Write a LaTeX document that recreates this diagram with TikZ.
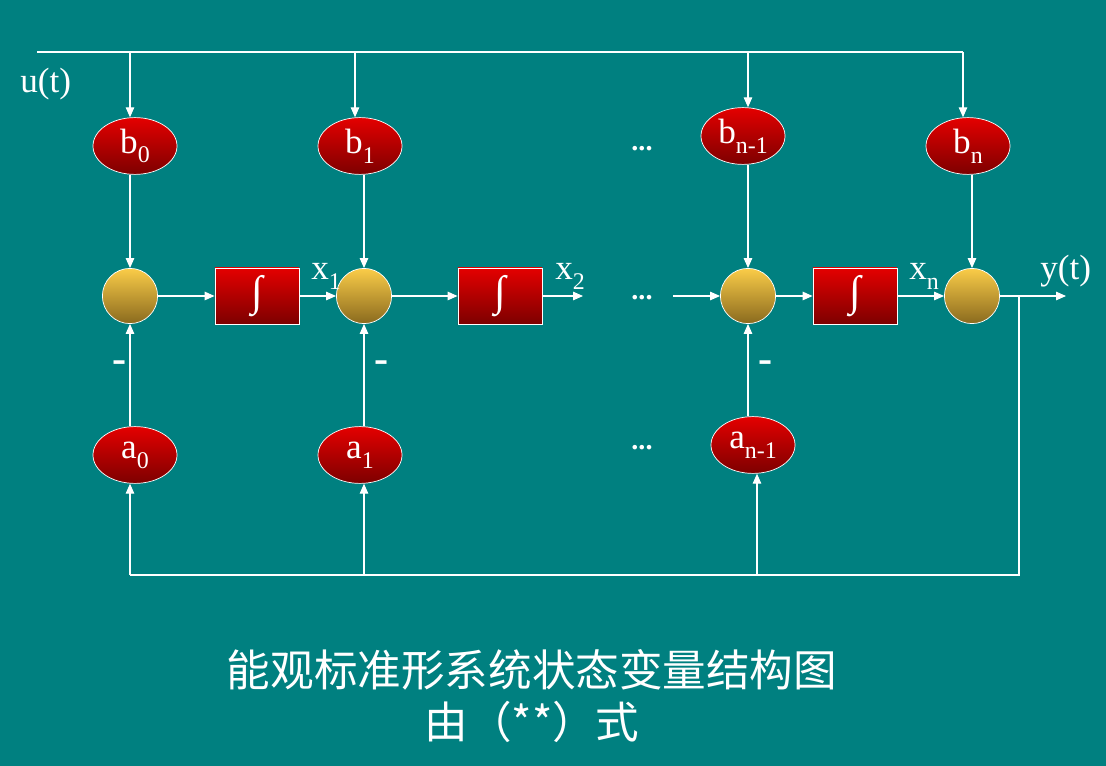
\documentclass[tikz,border=0pt]{standalone}
\usepackage{fontspec}
\setmainfont{Liberation Serif}
\newfontfamily\cjk{Noto Sans CJK SC}
\usetikzlibrary{arrows.meta,shapes.geometric}
\definecolor{bgteal}{RGB}{0,128,128}
\definecolor{gainhi}{RGB}{228,0,0}
\definecolor{gainlo}{RGB}{125,0,0}
\definecolor{sumhi}{RGB}{250,204,72}
\definecolor{sumlo}{RGB}{138,106,30}
\newcommand{\idx}[1]{\raisebox{-0.28em}{\fontsize{17}{17}\selectfont #1}}

\begin{document}
\begin{tikzpicture}[x=0.025cm,y=-0.025cm,>={Triangle[length=7pt,width=6pt]},
    gain/.style={ellipse,draw=white,line width=0.5pt,top color=gainhi,bottom color=gainlo,minimum width=2.1cm,minimum height=1.42cm,inner sep=0pt,text=white,font=\fontsize{25}{27}\selectfont},
    summer/.style={circle,draw=white,line width=0.5pt,top color=sumhi,bottom color=sumlo,minimum size=1.38cm,inner sep=0pt},
    integ/.style={rectangle,draw=white,line width=0.6pt,top color=gainhi,bottom color=gainlo,minimum width=2.1cm,minimum height=1.4cm,inner sep=0pt,text=white,font=\fontsize{30}{32}\selectfont},
    wire/.style={white,line width=0.8pt},
    lbl/.style={text=white,inner sep=0pt,font=\fontsize{25}{27}\selectfont},
    dots/.style={text=white,inner sep=0pt,font=\fontsize{20}{22}\selectfont\bfseries},
    minus/.style={text=white,inner sep=0pt,font=\fontsize{30}{30}\selectfont\bfseries}]
    \fill[bgteal] (0,0) rectangle (1106,766);
    \node[summer] (sum0) at (130,296) {};
    \node[integ] (int1) at (257,296) {∫};
    \node[summer] (sum1) at (364,296) {};
    \node[integ] (int2) at (500,296) {∫};
    \node[summer] (sumn1) at (748,296) {};
    \node[integ] (intn) at (855,296) {∫};
    \node[summer] (sumn) at (972,296) {};
    \node[gain] (b0) at (135,146) {b\idx{0}};
    \node[gain] (b1) at (360,146) {b\idx{1}};
    \node[gain] (bn1) at (743,136) {b\idx{n-1}};
    \node[gain] (bn) at (968,146) {b\idx{n}};
    \node[gain] (a0) at (135,455) {a\idx{0}};
    \node[gain] (a1) at (360,455) {a\idx{1}};
    \node[gain] (an1) at (753,445) {a\idx{n-1}};
    \coordinate (ustart) at (37,52);
    \coordinate (tap0) at (130,52);
    \coordinate (tap1) at (355,52);
    \coordinate (tapn1) at (748,52);
    \coordinate (tapn) at (963,52);
    \coordinate (x2end) at (583,296);
    \coordinate (nin) at (673,296);
    \coordinate (yj) at (1019,296);
    \coordinate (yend) at (1066,296);
    \coordinate (fb0) at (130,575);
    \coordinate (fb1) at (364,575);
    \coordinate (fbn1) at (757,575);
    \coordinate (fbout) at (1019,575);
    \node[lbl,anchor=base west] (ulab) at (20,93) {u(t)};
    \node[lbl,anchor=base west] (ylab) at (1040,280) {y(t)};
    \node[lbl,anchor=base west] (x1lab) at (311,280) {x\idx{1}};
    \node[lbl,anchor=base west] (x2lab) at (555,280) {x\idx{2}};
    \node[lbl,anchor=base west] (xnlab) at (909,280) {x\idx{n}};
    \node[dots] (dtop) at (642,149) {...};
    \node[dots] (dmid) at (642,298) {...};
    \node[dots] (dbot) at (642,448) {...};
    \node[minus] (neg0) at (120,367) {-};
    \node[minus] (neg1) at (382,367) {-};
    \node[minus] (negn1) at (766,367) {-};
    \draw[wire] (ustart) -- (tapn);
    \foreach \t/\g in {tap0/b0,tap1/b1,tapn1/bn1,tapn/bn}
      \draw[wire,->] (\t) -- (\t |- \g.north);
    \foreach \g/\s in {b0/sum0,b1/sum1,bn1/sumn1,bn/sumn}
      \draw[wire,->] (\s |- \g.south) -- (\s);
    \foreach \g/\s in {a0/sum0,a1/sum1,an1/sumn1}
      \draw[wire,->] (\s |- \g.north) -- (\s);
    \draw[wire,->] (sum0) -- (int1);
    \draw[wire,->] (int1) -- (sum1);
    \draw[wire,->] (sum1) -- (int2);
    \draw[wire,->] (int2) -- (x2end);
    \draw[wire,->] (nin) -- (sumn1);
    \draw[wire,->] (sumn1) -- (intn);
    \draw[wire,->] (intn) -- (sumn);
    \draw[wire,->] (sumn) -- (yend);
    \draw[wire] (yj) -- (fbout) -- (fb0);
    \foreach \f/\g in {fb0/a0,fb1/a1,fbn1/an1}
      \draw[wire,->] (\f) -- (\f |- \g.south);
    \node[text=white,align=center,font=\cjk\fontsize{31}{37}\selectfont] (title) at (532,696) {能观标准形系统状态变量结构图\\由（**）式};
\end{tikzpicture}
\end{document}
